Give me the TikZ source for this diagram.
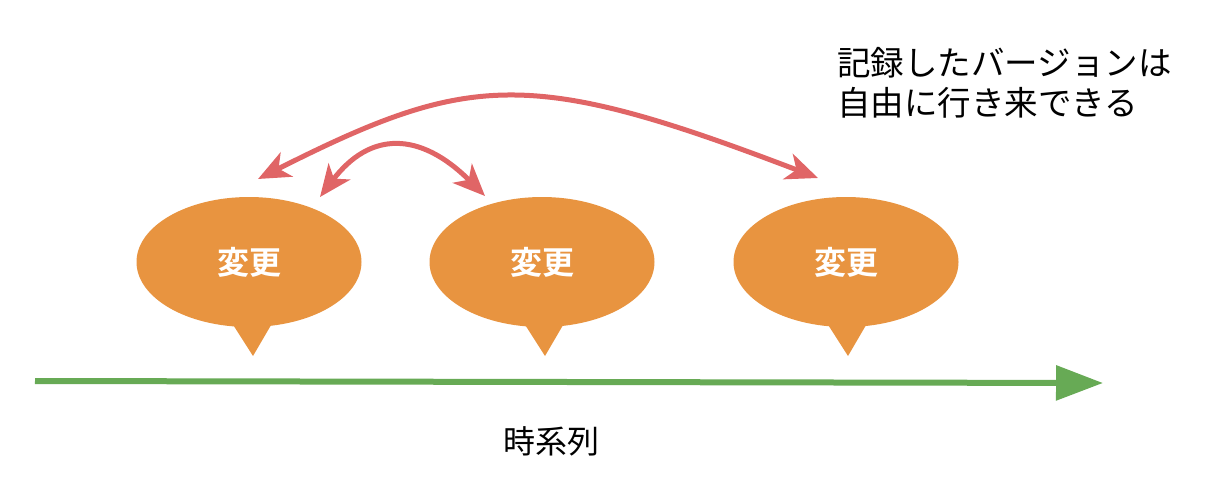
\documentclass[tikz,border=0pt]{standalone}
\usepackage{fontspec}
\newfontfamily\jp{Noto Sans CJK JP}
\newfontfamily\jpb{Noto Sans CJK JP Bold}
\usetikzlibrary{shapes.geometric,arrows.meta}
\definecolor{bubble}{HTML}{E89440}
\definecolor{redarr}{HTML}{E06566}
\definecolor{greenarr}{HTML}{67AA55}
\tikzset{
  bubblebox/.style={ellipse, fill=bubble, minimum width=225pt, minimum height=130pt, inner sep=0pt,
    font=\jpb\fontsize{32}{36}\selectfont, text=white},
  redtwo/.style={draw=redarr, line width=5pt, {Stealth[length=32pt, width=27pt, inset=9pt]}-{Stealth[length=32pt, width=27pt, inset=9pt]}},
}
\begin{document}
\begin{tikzpicture}[x=1pt,y=-1pt]
\useasboundingbox (0,0) rectangle (1212,492);
% bubbles
\node[bubblebox] (b1) at (249,262) {変更};
\node[bubblebox] (b2) at (542,262) {変更};
\node[bubblebox] (b3) at (846,262) {変更};
\foreach \b/\x in {b1/253, b2/545, b3/848}{
  \fill[bubble] (\x-23,320) -- (\x+21,320) -- (\x,356) -- cycle;
}
% timeline
\coordinate (t0) at (35,381);
\coordinate (t1) at (1103,383);
\draw[draw=greenarr, line width=6pt, -{Triangle[length=47pt, width=34pt]}] (t0) -- (t1);
\node[font=\jp\fontsize{32}{36}\selectfont, anchor=center] (tl) at (551,441) {時系列};
% red arrows
\coordinate (a1) at (258,179);
\coordinate (a2) at (818,178);
\coordinate (s1) at (320,197);
\coordinate (s2) at (485,196);
\draw[redtwo] (a1) .. controls (470,72) and (530,68) .. (a2);
\draw[redtwo] (s1) .. controls (370,131) and (420,131) .. (s2);
% caption
\node[font=\jp\fontsize{33.5}{40}\selectfont, anchor=north west, align=left, inner sep=0pt] (cap) at (837,47) {記録したバージョンは\\自由に行き来できる};
\end{tikzpicture}
\end{document}
